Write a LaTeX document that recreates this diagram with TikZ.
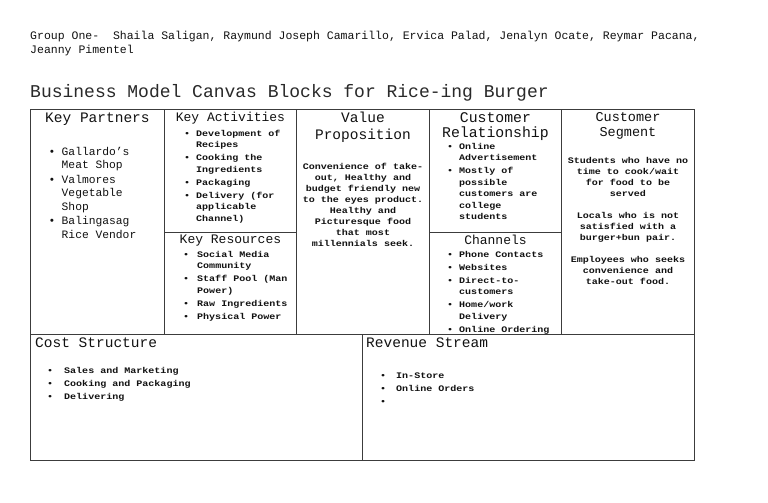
\documentclass[tikz,border=0pt]{standalone}
\usepackage{fontspec}
\setmainfont{Liberation Serif}
\setmonofont{Liberation Mono}
\newfontfamily\headfont{Liberation Mono}
\newfontfamily\bodyfont[FakeStretch=1.18]{Liberation Mono}
\usetikzlibrary{positioning}
\definecolor{Ink}{HTML}{111111}
\definecolor{Rule}{HTML}{3C3C3C}
\newcommand{\bl}[1][12pt]{\makebox[#1][l]{\textbullet}}
\newcommand{\ind}[1][12pt]{\hspace*{#1}}
\tikzset{
    block/.style={rectangle, draw=Rule, line width=0.9pt, anchor=north west, inner sep=0pt},
    headtxt/.style={inner sep=0pt, text=Ink, align=center, font=\headfont\fontsize{14.5}{16}\selectfont},
    subhead/.style={inner sep=0pt, text=Ink, align=center, font=\headfont\fontsize{13}{15}\selectfont},
    listtxt/.style={inner sep=0pt, text=Ink, align=left, anchor=north west, font=\bodyfont\bfseries\fontsize{8.5}{11.5}\selectfont},
    bodytxt/.style={inner sep=0pt, text=Ink, align=center, font=\bodyfont\bfseries\fontsize{8.5}{11}\selectfont},
}
\begin{document}
\begin{tikzpicture}[x=1pt, y=-1pt]
    \fill[white] (0,0) rectangle (768,503);
    \useasboundingbox (0,0) rectangle (768,503);

    % Intestazione
    \node[inner sep=0pt, anchor=north west, align=left, text=Ink, font=\headfont\fontsize{11.5}{14}\selectfont] (group) at (30,31)
        {Group One-~ Shaila Saligan, Raymund Joseph Camarillo, Ervica Palad, Jenalyn Ocate, Reymar Pacana,\\Jeanny Pimentel};
    \node[inner sep=0pt, anchor=north west, text=Ink!90, font=\headfont\fontsize{18}{20}\selectfont] (title) at (30,84)
        {Business Model Canvas Blocks for Rice-ing Burger};

    % Blocchi
    \node[block, minimum width=134pt, minimum height=225pt] (kp) at (30,109) {};
    \node[block, minimum width=132pt, minimum height=123pt] (ka) at (164,109) {};
    \node[block, minimum width=132pt, minimum height=102pt] (kr) at (164,232) {};
    \node[block, minimum width=133pt, minimum height=225pt] (vp) at (296,109) {};
    \node[block, minimum width=132pt, minimum height=123pt] (cr) at (429,109) {};
    \node[block, minimum width=132pt, minimum height=102pt] (ch) at (429,232) {};
    \node[block, minimum width=133pt, minimum height=225pt] (cs) at (561,109) {};
    \node[block, minimum width=332pt, minimum height=126pt] (cost) at (30,334) {};
    \node[block, minimum width=332pt, minimum height=126pt] (rev) at (362,334) {};

    % Titoli dei blocchi
    \node[headtxt, below=4pt of kp.north] (kp-head) {Key Partners};
    \node[subhead, below=3pt of ka.north] (ka-head) {Key Activities};
    \node[subhead, below=3pt of kr.north] (kr-head) {Key Resources};
    \node[headtxt, font=\headfont\fontsize{14.5}{17}\selectfont, below=3pt of vp.north] (vp-head) {Value\\Proposition};
    \node[headtxt, font=\headfont\fontsize{14.8}{15}\selectfont, below=3pt of cr.north] (cr-head) {Customer\\Relationship};
    \node[subhead, below=3pt of ch.north] (ch-head) {Channels};
    \node[headtxt, font=\headfont\fontsize{13.5}{15}\selectfont, below=3pt of cs.north] (cs-head) {Customer\\Segment};
    \node[headtxt, anchor=north west, below right=4pt and 5pt of cost.north west] (cost-head) {Cost Structure};
    \node[headtxt, anchor=north west, below right=4pt and 4pt of rev.north west] (rev-head) {Revenue Stream};

    % Contenuti
    \node[listtxt, font=\headfont\fontsize{11.3}{13.3}\selectfont, below right=38pt and 18.5pt of kp.north west] (kp-list)
        {\bl[13pt]Gallardo’s\\ \ind[13pt]Meat Shop\\[1.5pt]
         \bl[13pt]Valmores\\ \ind[13pt]Vegetable\\ \ind[13pt]Shop\\[1.5pt]
         \bl[13pt]Balingasag\\ \ind[13pt]Rice Vendor};
    \node[listtxt, below right=21pt and 20pt of ka.north west] (ka-list)
        {\bl Development of\\ \ind Recipes\\[1.5pt]
         \bl Cooking the\\ \ind Ingredients\\[1.5pt]
         \bl Packaging\\[1.5pt]
         \bl Delivery (for\\ \ind applicable\\ \ind Channel)};
    \node[listtxt, below right=19pt and 19pt of kr.north west] (kr-list)
        {\bl[14pt]Social Media\\ \ind[14pt]Community\\[1.5pt]
         \bl[14pt]Staff Pool (Man\\ \ind[14pt]Power)\\[1.5pt]
         \bl[14pt]Raw Ingredients\\[1.5pt]
         \bl[14pt]Physical Power};
    \node[bodytxt, below=54pt of vp.north] (vp-text)
        {Convenience of take-\\out, Healthy and\\budget friendly new\\to the eyes product.\\Healthy and\\Picturesque food\\that most\\millennials seek.};
    \node[listtxt, below right=34pt and 18pt of cr.north west] (cr-list)
        {\bl Online\\ \ind Advertisement\\[1.5pt]
         \bl Mostly of\\ \ind possible\\ \ind customers are\\ \ind college\\ \ind students};
    \node[listtxt, below right=19pt and 18pt of ch.north west] (ch-list)
        {\bl Phone Contacts\\[1.5pt]
         \bl Websites\\[1.5pt]
         \bl Direct-to-\\ \ind customers\\[1.5pt]
         \bl Home/work\\ \ind Delivery\\[1.5pt]
         \bl Online Ordering};
    \node[bodytxt, below=48.5pt of cs.north] (cs-text)
        {Students who have no\\time to cook/wait\\for food to be\\served\\[11pt]
         Locals who is not\\satisfied with a\\burger+bun pair.\\[11pt]
         Employees who seeks\\convenience and\\take-out food.};
    \node[listtxt, font=\bodyfont\bfseries\fontsize{8.5}{13}\selectfont, below right=33.5pt and 17pt of cost.north west] (cost-list)
        {\bl[17pt]Sales and Marketing\\
         \bl[17pt]Cooking and Packaging\\
         \bl[17pt]Delivering};
    \node[listtxt, font=\bodyfont\bfseries\fontsize{8.5}{13}\selectfont, below right=38.5pt and 18pt of rev.north west] (rev-list)
        {\bl[16pt]In-Store\\
         \bl[16pt]Online Orders\\
         \bl[16pt]};
\end{tikzpicture}
\end{document}
